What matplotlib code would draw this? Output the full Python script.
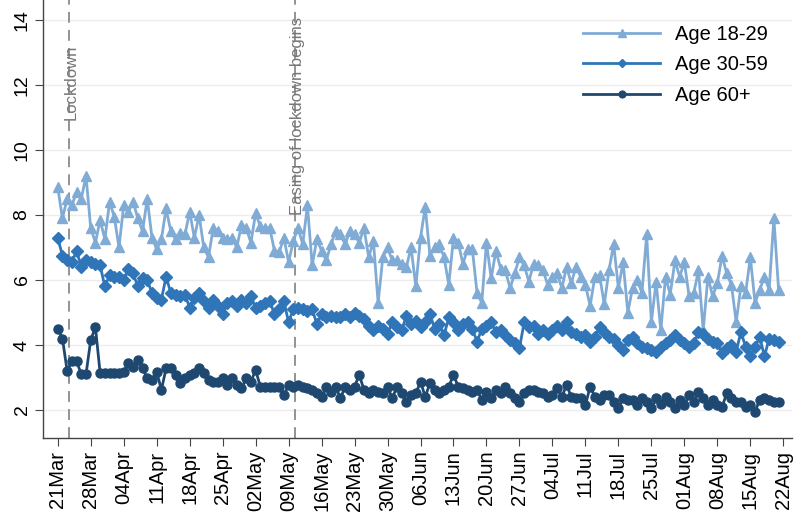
import numpy as np
import pandas as pd
import matplotlib
matplotlib.use("Agg")
import matplotlib.pyplot as plt
import matplotlib.dates as mdates

plt.rcParams['font.family'] = ['Liberation Sans', 'DejaVu Sans']

# daily values, 21 Mar - 21 Aug
dates = pd.date_range('2020-03-21', periods=154, freq='D')

age_18_29 = [
    8.85, 7.9, 8.5, 8.3, 8.7, 8.5, 9.2, 7.6, 7.15, 7.85,
    7.25, 8.4, 7.95, 7.0, 8.3, 8.1, 8.4, 7.9, 7.5, 8.5,
    7.3, 6.95, 7.25, 8.2, 7.5, 7.25, 7.45, 7.4, 8.1, 7.3,
    8.0, 7.0, 6.7, 7.6, 7.5, 7.3, 7.25, 7.3, 7.0, 7.7,
    7.6, 7.15, 8.05, 7.65, 7.6, 7.6, 6.9, 6.85, 7.3, 6.55,
    7.2, 7.6, 7.1, 8.3, 6.45, 7.25, 6.9, 6.6, 7.1, 7.5,
    7.4, 7.1, 7.5, 7.4, 7.15, 7.6, 6.7, 7.2, 5.3, 6.7,
    7.0, 6.6, 6.6, 6.5, 6.4, 7.0, 5.8, 7.3, 8.25, 6.75,
    7.0, 7.1, 6.7, 5.85, 7.3, 7.15, 6.5, 6.95, 6.95, 5.6,
    5.3, 7.15, 6.05, 6.9, 6.35, 6.3, 5.75, 6.2, 6.7, 6.45,
    5.95, 6.5, 6.45, 6.3, 5.85, 6.1, 6.2, 5.75, 6.4, 5.9,
    6.4, 6.1, 5.85, 5.2, 6.1, 6.15, 5.25, 6.3, 7.1, 5.75,
    6.55, 5.0, 5.75, 6.0, 5.6, 7.4, 4.7, 5.95, 4.45, 6.1,
    5.55, 6.6, 6.1, 6.55, 5.5, 5.6, 6.3, 4.45, 6.1, 5.5,
    5.9, 6.75, 6.2, 5.85, 4.7, 5.8, 5.6, 6.7, 5.3, 5.7,
    6.1, 5.7, 7.9, 5.7,
]

age_30_59 = [
    7.3, 6.75, 6.6, 6.55, 6.9, 6.4, 6.6, 6.55, 6.5, 6.45,
    5.8, 6.15, 6.1, 6.1, 6.0, 6.35, 6.2, 5.8, 6.05, 6.0,
    5.6, 5.45, 5.4, 6.1, 5.6, 5.55, 5.5, 5.55, 5.15, 5.45,
    5.6, 5.35, 5.15, 5.4, 5.2, 4.95, 5.3, 5.35, 5.2, 5.4,
    5.3, 5.5, 5.15, 5.2, 5.3, 5.35, 4.95, 5.1, 5.35, 4.7,
    5.1, 5.15, 5.1, 5.05, 5.1, 4.65, 4.95, 4.85, 4.9, 4.85,
    4.85, 4.95, 4.85, 5.0, 4.9, 4.8, 4.6, 4.45, 4.6, 4.5,
    4.35, 4.7, 4.55, 4.45, 4.9, 4.65, 4.75, 4.55, 4.7, 4.95,
    4.5, 4.65, 4.3, 4.85, 4.7, 4.45, 4.65, 4.7, 4.5, 4.1,
    4.5, 4.6, 4.7, 4.4, 4.45, 4.3, 4.15, 4.05, 3.9, 4.7,
    4.55, 4.6, 4.35, 4.45, 4.35, 4.45, 4.6, 4.45, 4.7, 4.4,
    4.35, 4.25, 4.3, 4.1, 4.25, 4.55, 4.4, 4.25, 4.2, 4.0,
    3.85, 4.15, 4.25, 4.05, 3.95, 3.9, 3.85, 3.8, 3.95, 4.05,
    4.15, 4.3, 4.15, 4.05, 3.95, 4.05, 4.4, 4.35, 4.2, 4.1,
    4.05, 3.75, 3.9, 4.0, 3.8, 4.4, 3.95, 3.65, 3.95, 4.25,
    3.65, 4.2, 4.15, 4.1,
]

age_60_plus = [
    4.5, 4.2, 3.2, 3.5, 3.5, 3.1, 3.1, 4.15, 4.55, 3.13,
    3.13, 3.13, 3.13, 3.13, 3.18, 3.44, 3.33, 3.54, 3.28, 2.97,
    2.92, 3.18, 2.62, 3.28, 3.28, 3.08, 2.82, 2.97, 3.08, 3.13,
    3.28, 3.13, 2.92, 2.87, 2.87, 2.97, 2.77, 2.97, 2.77, 2.67,
    2.97, 2.87, 3.23, 2.72, 2.72, 2.72, 2.72, 2.72, 2.45, 2.77,
    2.72, 2.77, 2.72, 2.67, 2.62, 2.51, 2.41, 2.72, 2.56, 2.72,
    2.36, 2.72, 2.62, 2.72, 3.08, 2.62, 2.51, 2.62, 2.56, 2.51,
    2.72, 2.36, 2.72, 2.51, 2.26, 2.46, 2.51, 2.87, 2.41, 2.82,
    2.62, 2.51, 2.62, 2.72, 3.08, 2.72, 2.67, 2.62, 2.56, 2.62,
    2.31, 2.56, 2.36, 2.62, 2.51, 2.72, 2.51, 2.36, 2.26, 2.51,
    2.62, 2.62, 2.56, 2.51, 2.41, 2.46, 2.67, 2.41, 2.77, 2.41,
    2.36, 2.36, 2.15, 2.72, 2.41, 2.31, 2.46, 2.46, 2.26, 2.05,
    2.36, 2.31, 2.31, 2.15, 2.36, 2.26, 2.05, 2.36, 2.2, 2.41,
    2.26, 2.05, 2.31, 2.15, 2.46, 2.26, 2.56, 2.36, 2.15, 2.31,
    2.15, 2.1, 2.51, 2.36, 2.26, 2.26, 2.1, 2.15, 1.95, 2.31,
    2.36, 2.31, 2.26, 2.26,
]

events = [pd.Timestamp('2020-03-23 11:00'), pd.Timestamp('2020-05-10 10:00')]
event_labels = ['Lockdown', 'Easing of lockdown begins']
event_label_y = [13.25, 14.1]

c_light = '#80abd5'
c_mid = '#2f75b8'
c_dark = '#1e4870'

fig = plt.figure(figsize=(7.94, 5.18), dpi=100)
ax = fig.add_axes([0.0542, 0.1544, 0.943, 0.8456])

ax.plot(dates, age_18_29, color=c_light, lw=2, marker='^', ms=7, label='Age 18-29')
ax.plot(dates, age_30_59, color=c_mid, lw=2, marker='D', ms=6, label='Age 30-59')
ax.plot(dates, age_60_plus, color=c_dark, lw=2, marker='o', ms=6.5, label='Age 60+')

for d, lab, yy in zip(events, event_labels, event_label_y):
    ax.axvline(d, color='#8a8a8a', lw=1.3, ls=(0, (6, 4)), zorder=1)
    ax.text(d + pd.Timedelta(hours=10), yy, lab, rotation=90, ha='center', va='top',
            fontsize=12, color='#777777')

start = pd.Timestamp('2020-03-21')
ax.set_xlim(start - pd.Timedelta(days=3.12), start + pd.Timedelta(days=155.8))
ax.set_ylim(1.138, 14.615)

ax.set_xticks(pd.date_range('2020-03-21', '2020-08-22', freq='7D'))
ax.xaxis.set_major_formatter(mdates.DateFormatter('%d%b'))
ax.set_yticks([2, 4, 6, 8, 10, 12, 14])

ax.tick_params(axis='x', labelsize=14.5, labelrotation=90, length=6, color='#444444', pad=3)
ax.tick_params(axis='y', labelsize=14, length=6, color='#444444', pad=3)
for t in ax.get_yticklabels():
    t.set_rotation(90)
    t.set_va('center')

ax.grid(axis='y', color='#ececec', lw=1)
ax.set_axisbelow(True)
for s in ['top', 'right']:
    ax.spines[s].set_visible(False)
for s in ['left', 'bottom']:
    ax.spines[s].set_color('#444444')
    ax.spines[s].set_linewidth(1)

ax.legend(loc='upper left', bbox_to_anchor=(0.722, 0.972), bbox_transform=fig.transFigure,
          frameon=False, fontsize=14.5, handlelength=3.8, handletextpad=0.75,
          labelspacing=0.58, borderpad=0, markerscale=0.75)

plt.savefig('out.png', dpi=100)
